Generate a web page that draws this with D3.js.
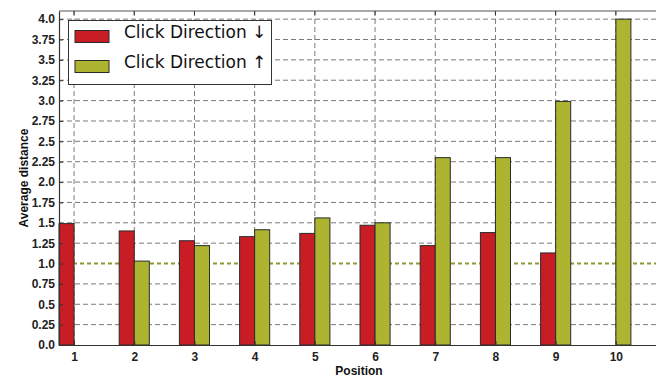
<!DOCTYPE html>
<html><head><meta charset="utf-8">
<script src="https://cdn.jsdelivr.net/npm/d3@7"></script>
<style>body{margin:0;background:#fff}svg{display:block}</style>
</head><body>
<svg id="c" width="656" height="377"></svg>
<script>
const positions = [1,2,3,4,5,6,7,8,9,10];
const downValues = [1.49,1.40,1.28,1.33,1.37,1.47,1.22,1.38,1.13,null];
const upValues   = [null,1.03,1.22,1.415,1.56,1.50,2.30,2.30,2.99,4.0];
const yTicks = [0,0.25,0.5,0.75,1.0,1.25,1.5,1.75,2.0,2.25,2.5,2.75,3.0,3.25,3.5,3.75,4.0];
const seriesNames = ["Click Direction \u2193","Click Direction \u2191"];
const colors = ["#c91d26","#adb42f"];
const refLine = 1.0;

const svg = d3.select("#c");
const L = 59, R = 661, T = 11, B = 345;
const x = d3.scaleLinear().domain([0.75, 10.75]).range([L, R]);
const y = d3.scaleLinear().domain([0, 4.1]).range([B, T]);
const bw = x(1.25) - x(1);

// grid
const g = svg.append("g");
g.selectAll(".hg").data(yTicks.filter(v => v !== 0 && v !== refLine)).enter().append("line")
  .attr("x1", L).attr("x2", R).attr("y1", d => y(d)).attr("y2", d => y(d))
  .attr("stroke", "#7a7a7a").attr("stroke-width", 1).attr("stroke-dasharray", "5,3");
g.selectAll(".vg").data(positions).enter().append("line")
  .attr("x1", d => x(d)).attr("x2", d => x(d)).attr("y1", T).attr("y2", B)
  .attr("stroke", "#7a7a7a").attr("stroke-width", 1).attr("stroke-dasharray", "5,3");

// reference line
svg.append("line").attr("x1", L).attr("x2", R).attr("y1", y(refLine)).attr("y2", y(refLine))
  .attr("stroke", "#8c9a32").attr("stroke-width", 2).attr("stroke-dasharray", "4,3");

// bars
const bars = svg.append("g");
bars.selectAll(".d").data(positions.map((p,i)=>({p, v: downValues[i]})).filter(d => d.v != null))
  .enter().append("rect")
  .attr("x", d => x(d.p) - bw).attr("width", bw)
  .attr("y", d => y(d.v)).attr("height", d => y(0) - y(d.v))
  .attr("fill", colors[0]).attr("stroke", "#2a2a2a").attr("stroke-width", 1);
bars.selectAll(".u").data(positions.map((p,i)=>({p, v: upValues[i]})).filter(d => d.v != null))
  .enter().append("rect")
  .attr("x", d => x(d.p)).attr("width", bw)
  .attr("y", d => y(d.v)).attr("height", d => y(0) - y(d.v))
  .attr("fill", colors[1]).attr("stroke", "#2a2a2a").attr("stroke-width", 1);

// frame
svg.append("line").attr("x1", L).attr("x2", R).attr("y1", T).attr("y2", T).attr("stroke", "#555").attr("stroke-width", 1);

// axes
const fmt = v => (v % 1 === 0 ? v.toFixed(1) : String(v));
const ya = svg.append("g").attr("transform", `translate(${L},0)`)
  .call(d3.axisLeft(y).tickValues(yTicks).tickFormat(fmt).tickSizeInner(-4).tickSizeOuter(0).tickPadding(4));
const xa = svg.append("g").attr("transform", `translate(0,${B})`)
  .call(d3.axisBottom(x).tickValues(positions).tickFormat(d3.format("d")).tickSizeInner(-4).tickSizeOuter(0).tickPadding(7));
[ya, xa].forEach(a => {
  a.select(".domain").attr("stroke", "#333").attr("stroke-width", 1.2);
  a.selectAll(".tick line").attr("stroke", "#333");
  a.selectAll("text").attr("font-family", "Liberation Sans, Arial, sans-serif")
    .attr("font-weight", "bold").attr("font-size", 12).attr("fill", "#222");
});
// top ticks
svg.append("g").selectAll("line").data(positions).enter().append("line")
  .attr("x1", d => x(d)).attr("x2", d => x(d)).attr("y1", T).attr("y2", T + 4).attr("stroke", "#333");

// axis titles
svg.append("text").attr("x", 359).attr("y", 374.5)
  .attr("text-anchor", "middle").attr("font-family", "Liberation Sans, Arial, sans-serif")
  .attr("font-weight", "bold").attr("font-size", 12).attr("fill", "#111").text("Position");
svg.append("text").attr("transform", `translate(28,${(T+B)/2}) rotate(-90)`)
  .attr("text-anchor", "middle").attr("font-family", "Liberation Sans, Arial, sans-serif")
  .attr("font-weight", "bold").attr("font-size", 12).attr("fill", "#111").text("Average distance");

// legend
const lg = svg.append("g");
lg.append("rect").attr("x", 68.5).attr("y", 20.5).attr("width", 203).attr("height", 64)
  .attr("fill", "#fff").attr("stroke", "#333").attr("stroke-width", 1);
seriesNames.forEach((n, i) => {
  lg.append("rect").attr("x", 75).attr("y", 30.5 + i*30).attr("width", 34).attr("height", 12)
    .attr("fill", colors[i]).attr("stroke", "#2a2a2a").attr("stroke-width", 1);
  lg.append("text").attr("x", 124).attr("y", 38 + i*30)
    .attr("font-family", "DejaVu Sans, sans-serif").attr("font-size", 17).attr("fill", "#111").text(n);
});
</script>
</body></html>
